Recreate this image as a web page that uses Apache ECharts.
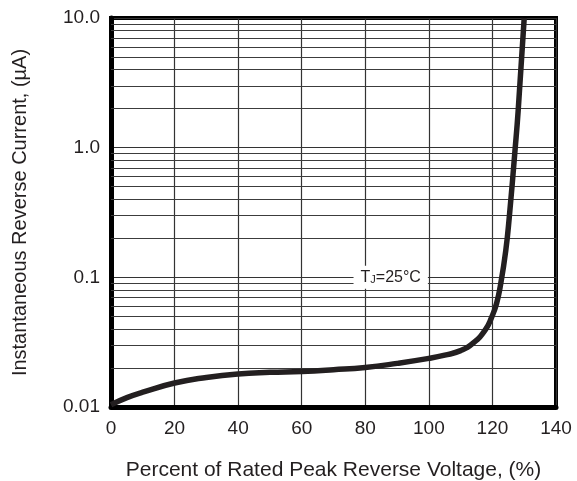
<!DOCTYPE html>
<html>
<head>
<meta charset="utf-8">
<script src="https://cdn.jsdelivr.net/npm/echarts@6/dist/echarts.min.js"></script>
<style>
html,body{margin:0;padding:0;background:#fff;}
#chart{width:577px;height:481px;}
</style>
</head>
<body>
<div id="chart"></div>
<script>
// Percent of rated peak reverse voltage (%)
const voltagePct = [0, 5, 10, 20, 30, 40, 50, 60, 70, 80, 90, 100, 105, 110, 114, 117.7, 119.8, 121.3, 122.6, 124.2, 125.3, 127.1, 128.1, 130];
// Instantaneous reverse current (µA)
const reverseCurrent = [0.0104, 0.0118, 0.0130, 0.0153, 0.0169, 0.0180, 0.0185, 0.0188, 0.0194, 0.0202, 0.0217, 0.0237, 0.0251, 0.0272, 0.0312, 0.0391, 0.0495, 0.0628, 0.089, 0.161, 0.291, 0.95, 1.93, 10.0];
// Minor horizontal grid values (2..9 per decade)
const minorGridValues = [0.02,0.03,0.04,0.05,0.06,0.07,0.08,0.09,0.2,0.3,0.4,0.5,0.6,0.7,0.8,0.9,2,3,4,5,6,7,8,9];
const yTickLabels = {"10": "10.0", "1": "1.0", "0.1": "0.1", "0.01": "0.01"};
const annotation = {x: 88, y: 0.1, text: "{t|T}{s|J}{t|=25°C}"};

const chart = echarts.init(document.getElementById('chart'));
const font = 'Liberation Sans, Arial, sans-serif';
chart.setOption({
  animation: false,
  backgroundColor: '#fff',
  grid: {left: 111, right: 21, top: 18, bottom: 74, containLabel: false, outerBoundsMode: 'none',
    show: true, borderColor: '#000', borderWidth: 4, backgroundColor: 'transparent'},
  xAxis: {
    type: 'value', min: 0, max: 140, interval: 20,
    name: 'Percent of Rated Peak Reverse Voltage, (%)',
    nameLocation: 'middle', nameGap: 53,
    nameTextStyle: {fontFamily: font, fontSize: 21, color: '#231f20'},
    axisLine: {show: true, lineStyle: {color: '#000', width: 5}},
    axisTick: {show: false},
    axisLabel: {fontFamily: font, fontSize: 19, color: '#231f20', margin: 12},
    splitLine: {show: true, lineStyle: {color: '#333', width: 1.2}}
  },
  yAxis: {
    type: 'log', logBase: 10, min: 0.01, max: 10,
    name: 'Instantaneous Reverse Current, (µA)',
    nameLocation: 'middle', nameGap: 81,
    nameTextStyle: {fontFamily: font, fontSize: 20, color: '#231f20'},
    axisLine: {show: true, lineStyle: {color: '#000', width: 5}},
    axisTick: {show: false},
    axisLabel: {fontFamily: font, fontSize: 19, color: '#231f20', margin: 11,
      formatter: v => yTickLabels[String(+v.toPrecision(3))] || ''},
    splitLine: {show: true, lineStyle: {color: '#333', width: 1.2}}
  },
  series: [{
    type: 'line',
    data: voltagePct.map((x, i) => [x, reverseCurrent[i]]),
    smooth: 0.5,
    showSymbol: false,
    lineStyle: {color: '#231f20', width: 5.5},
    z: 5,
    markLine: {
      silent: true, symbol: 'none', animation: false,
      label: {show: false},
      lineStyle: {color: '#3c3c3c', width: 1.2, type: 'solid'},
      data: minorGridValues.map(v => ({yAxis: v}))
    },
    markPoint: {
      silent: true, symbol: 'rect', symbolSize: 0,
      data: [{coord: [annotation.x, annotation.y]}],
      label: {
        show: true, position: 'inside', formatter: annotation.text,
        backgroundColor: '#fff', padding: [3, 7, 3, 7],
        rich: {
          t: {fontFamily: font, fontSize: 16, color: '#231f20'},
          s: {fontFamily: font, fontSize: 11, color: '#231f20', padding: [6, 0, 0, 0]}
        }
      }
    }
  }]
});
</script>
</body>
</html>
